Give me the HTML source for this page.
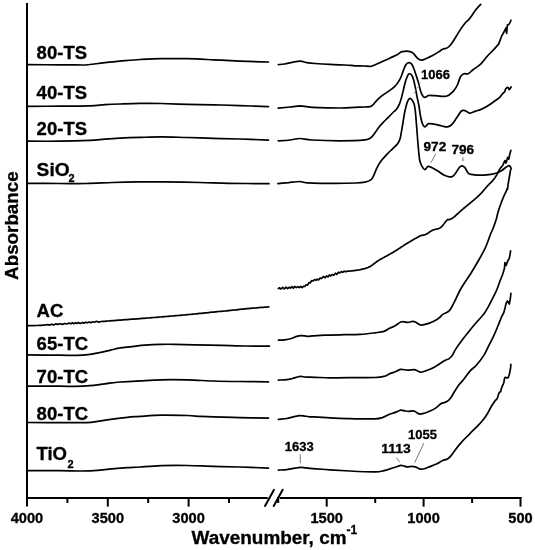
<!DOCTYPE html>
<html><head><meta charset="utf-8"><style>
html,body{margin:0;padding:0;background:#fff;}
svg{display:block;will-change:transform;}
text{font-family:"Liberation Sans",sans-serif;font-weight:bold;fill:#000;stroke:#000;stroke-width:0.3px;}
</style></head><body>
<svg width="535" height="550" viewBox="0 0 535 550">
<g fill="none" stroke="#000" stroke-width="1.7" stroke-linejoin="round" stroke-linecap="round">
<path d="M27.0 64.7 C32.5 64.7 50.8 64.8 60.0 64.8 C69.2 64.8 77.4 65.0 82.4 65.0 C87.4 65.0 86.2 64.9 89.9 64.5 C93.7 64.1 99.9 63.2 104.9 62.7 C109.9 62.2 114.0 61.7 119.8 61.2 C125.6 60.7 133.1 59.9 140.0 59.5 C146.9 59.1 153.3 58.7 161.2 58.6 C169.1 58.5 178.7 58.5 187.4 58.7 C196.1 58.9 204.8 59.4 213.5 59.8 C222.2 60.2 230.5 60.7 239.7 61.1 C248.9 61.5 263.7 61.9 268.5 62.0"/>
<path d="M27.0 106.3 C32.5 106.3 49.5 106.3 60.0 106.2 C70.5 106.1 82.4 106.0 89.9 105.8 C97.4 105.5 99.9 105.0 104.9 104.7 C109.9 104.4 114.0 104.2 119.8 104.0 C125.6 103.8 133.1 103.5 140.0 103.4 C146.9 103.3 153.3 103.3 161.2 103.5 C169.1 103.7 178.7 104.1 187.4 104.3 C196.1 104.5 204.8 104.6 213.5 104.8 C222.2 105.0 230.5 105.3 239.7 105.6 C248.9 105.9 263.7 106.4 268.5 106.6"/>
<path d="M27.0 141.2 C32.5 141.2 49.5 141.3 60.0 141.2 C70.5 141.0 82.4 140.6 89.9 140.3 C97.4 140.0 99.9 139.5 104.9 139.2 C109.9 138.8 114.0 138.5 119.8 138.2 C125.6 137.9 133.1 137.6 140.0 137.4 C146.9 137.2 153.3 136.9 161.2 136.9 C169.1 136.9 178.7 137.3 187.4 137.5 C196.1 137.7 204.8 138.1 213.5 138.3 C222.2 138.6 230.5 138.7 239.7 139.0 C248.9 139.3 263.7 139.9 268.5 140.1"/>
<path d="M27.0 183.4 C32.5 183.4 50.1 183.5 60.0 183.5 C69.9 183.5 77.5 183.7 86.2 183.5 C94.9 183.3 103.7 182.8 112.4 182.5 C121.1 182.2 129.8 182.0 138.5 181.9 C147.2 181.8 154.4 181.8 164.7 181.9 C174.9 182.0 189.3 182.3 200.0 182.5 C210.7 182.7 217.1 183.1 228.6 183.3 C240.1 183.5 262.3 183.6 269.0 183.7"/>
<path d="M27.0 325.7 L27.4 325.7 L27.8 325.7 L28.3 325.7 L28.8 325.7 L29.4 325.7 L30.1 325.6 L30.8 325.6 L31.5 325.6 L32.2 325.6 L32.9 325.6 L33.7 325.6 L34.5 325.6 L35.2 325.5 L36.0 325.5 L36.7 325.5 L37.5 325.5 L38.1 325.5 L38.8 325.4 L39.4 325.4 L40.0 325.4 L40.5 325.4 L41.0 325.3 L41.4 325.3 L41.8 325.3 L42.2 325.3 L42.6 325.2 L42.9 325.2 L43.3 325.2 L43.6 325.1 L43.9 325.1 L44.3 325.1 L44.7 325.0 L45.1 325.0 L45.5 325.0 L45.9 324.9 L46.4 324.9 L46.9 324.8 L47.5 324.5 L49.7 325.1 L51.5 324.2 L53.4 324.9 L55.6 323.9 L57.9 324.4 L60.2 323.8 L62.5 324.4 L64.8 323.5 L67.0 324.0 L69.0 323.0 L70.8 323.8 L72.5 322.8 L74.0 323.7 L75.6 322.7 L77.0 323.4 L78.4 322.6 L80.5 323.5 L82.6 322.4 L84.1 323.2 L85.5 322.2 L87.4 322.8 L89.1 321.9 L90.8 322.7 L92.8 321.8 L94.4 322.2 L96.4 321.3 L98.7 322.1 L101.4 321.5 L103.0 321.4 L104.7 321.3 L106.4 321.1 L108.3 321.0 L110.2 320.8 L112.2 320.7 L114.2 320.6 L116.3 320.4 L118.5 320.2 L120.6 320.1 L122.8 319.9 L125.0 319.7 L127.2 319.6 L129.4 319.4 L131.6 319.2 L133.8 319.1 L135.9 318.9 L138.0 318.8 L140.0 318.6 L142.0 318.4 L144.0 318.3 L146.0 318.1 L148.1 318.0 L150.1 317.8 L152.1 317.6 L154.2 317.5 L156.2 317.3 L158.3 317.1 L160.3 317.0 L162.3 316.8 L164.3 316.6 L166.3 316.5 L168.3 316.3 L170.3 316.1 L172.3 316.0 L174.2 315.8 L176.2 315.6 L178.1 315.5 L180.0 315.3 L181.9 315.1 L183.7 315.0 L185.6 314.8 L187.4 314.6 L189.2 314.5 L191.0 314.3 L192.8 314.1 L194.5 314.0 L196.3 313.8 L198.0 313.6 L199.8 313.4 L201.5 313.3 L203.3 313.1 L205.0 312.9 L206.7 312.8 L208.5 312.6 L210.2 312.4 L212.0 312.2 L213.7 312.1 L215.5 311.9 L217.3 311.7 L219.1 311.5 L221.0 311.3 L222.9 311.2 L224.8 311.0 L226.7 310.8 L228.6 310.6 L230.5 310.4 L232.5 310.2 L234.4 310.0 L236.2 309.8 L238.1 309.6 L239.9 309.4 L241.7 309.2 L243.4 309.1 L245.0 308.9 L246.6 308.7 L248.2 308.6 L249.6 308.4 L251.0 308.3 L252.3 308.2 L253.6 308.1 L254.8 308.0 L256.0 307.9 L257.1 307.8 L258.2 307.7 L259.2 307.6 L260.2 307.5 L261.2 307.4 L262.1 307.4 L263.0 307.3 L263.8 307.3 L264.6 307.2 L265.3 307.1 L266.0 307.1 L266.7 307.1 L267.3 307.0 L267.8 307.0 L268.3 306.9 L268.8 306.9"/>
<path d="M27.0 354.8 C32.5 354.9 51.7 355.1 60.0 355.2 C68.3 355.3 72.1 355.5 76.8 355.4 C81.5 355.3 84.2 355.1 88.0 354.6 C91.8 354.2 95.5 353.4 99.3 352.7 C103.0 351.9 107.0 350.9 110.5 350.1 C114.0 349.3 116.8 348.4 120.0 347.9 C123.2 347.3 125.8 347.2 130.0 346.8 C134.2 346.4 139.9 345.6 144.9 345.2 C149.9 344.8 154.9 344.5 159.9 344.4 C164.9 344.2 169.0 344.2 174.8 344.3 C180.7 344.4 187.2 344.6 195.0 344.8 C202.8 345.0 213.4 345.2 221.8 345.4 C230.2 345.6 237.7 345.9 245.6 346.0 C253.5 346.1 265.4 346.1 269.4 346.1"/>
<path d="M27.0 386.1 C32.5 386.1 52.0 386.1 60.0 386.1 C68.0 386.2 70.0 386.5 75.0 386.4 C80.0 386.3 84.9 386.1 89.9 385.7 C94.9 385.3 99.9 384.4 104.9 383.8 C109.9 383.2 114.0 382.5 119.8 382.0 C125.6 381.5 133.1 381.3 140.0 380.9 C146.9 380.5 153.3 380.0 161.2 379.8 C169.1 379.6 178.7 379.7 187.4 379.9 C196.1 380.1 204.8 380.7 213.5 381.0 C222.2 381.3 230.5 381.4 239.7 381.5 C248.9 381.6 263.7 381.8 268.5 381.8"/>
<path d="M27.0 422.5 C32.5 422.5 50.0 422.6 60.0 422.6 C70.0 422.6 80.7 422.8 86.9 422.6 C93.1 422.4 93.2 422.0 97.4 421.4 C101.6 420.8 107.3 419.9 112.3 419.2 C117.3 418.5 122.7 417.8 127.3 417.3 C131.9 416.8 134.3 416.8 140.0 416.4 C145.7 416.0 153.3 415.2 161.2 415.1 C169.1 415.0 180.9 415.3 187.4 415.5 C193.9 415.7 196.1 416.2 200.4 416.4 C204.8 416.6 206.9 416.6 213.5 416.8 C220.1 417.0 230.5 417.4 239.7 417.6 C248.9 417.8 263.7 418.0 268.5 418.1"/>
<path d="M27.0 470.7 C32.5 470.7 50.8 470.6 60.0 470.7 C69.2 470.8 76.2 471.1 82.4 471.0 C88.6 470.9 92.4 470.7 97.4 470.3 C102.4 469.9 107.3 469.2 112.3 468.8 C117.3 468.4 122.7 468.0 127.3 467.7 C131.9 467.4 134.3 467.4 140.0 467.0 C145.7 466.6 153.3 465.9 161.2 465.6 C169.1 465.4 178.7 465.4 187.4 465.5 C196.1 465.6 204.8 466.1 213.5 466.3 C222.2 466.6 230.5 466.7 239.7 467.0 C248.9 467.3 263.7 467.9 268.5 468.1"/>
<path d="M278.4 64.6 C279.4 64.5 282.3 64.4 284.6 64.0 C286.9 63.6 289.8 62.8 292.4 62.3 C295.0 61.8 297.9 61.2 300.3 61.2 C302.7 61.2 304.6 62.2 307.0 62.6 C309.4 63.0 311.1 63.2 314.9 63.5 C318.7 63.8 325.0 64.2 330.0 64.4 C335.0 64.7 340.8 64.8 345.0 65.0 C349.2 65.2 351.8 65.6 355.0 65.8 C358.2 66.0 361.4 65.9 364.0 66.0 C366.6 66.1 368.4 66.6 370.5 66.3 C372.6 66.0 374.2 65.0 376.8 64.0 C379.4 63.0 383.1 61.2 385.8 60.0 C388.5 58.8 391.1 57.5 393.1 56.6 C395.1 55.7 396.3 55.1 397.6 54.4 C398.9 53.6 399.9 52.6 401.0 52.1 C402.1 51.6 403.0 51.4 404.3 51.3 C405.6 51.2 407.5 51.1 408.8 51.3 C410.1 51.5 411.3 51.9 412.2 52.4 C413.1 52.9 413.1 53.2 414.0 54.1 C414.9 55.0 416.1 57.0 417.3 58.0 C418.5 59.0 419.6 60.1 421.3 60.1 C423.0 60.1 425.4 58.8 427.4 58.0 C429.3 57.2 431.1 56.2 433.0 55.2 C434.9 54.2 437.0 52.9 438.6 51.9 C440.2 50.9 441.3 49.9 442.6 49.3 C443.9 48.7 445.4 48.7 446.5 48.2 C447.6 47.7 448.2 47.5 449.3 46.3 C450.4 45.1 451.8 43.3 453.2 41.2 C454.6 39.1 456.4 36.0 457.7 33.9 C459.0 31.8 460.0 30.2 461.2 28.4 C462.4 26.6 463.8 24.7 465.0 23.2 C466.2 21.7 467.6 20.9 468.7 19.6 C469.8 18.4 470.4 17.4 471.7 15.7 C472.9 14.0 474.7 11.2 476.2 9.3 C477.7 7.4 479.9 5.1 480.7 4.3"/>
<path d="M278.2 108.2 C280.2 108.0 286.3 107.4 290.0 107.0 C293.7 106.6 296.7 105.9 300.4 105.9 C304.1 106.0 305.4 107.0 312.0 107.3 C318.6 107.6 332.0 108.0 340.0 108.0 C348.0 108.0 355.0 107.3 360.0 107.1 C365.0 106.9 367.9 107.1 370.1 106.6 C372.4 106.1 372.4 105.3 373.5 104.3 C374.6 103.3 375.3 101.9 376.8 100.4 C378.3 98.9 380.3 97.0 382.4 95.4 C384.5 93.8 387.1 92.4 389.2 90.9 C391.3 89.4 393.2 88.0 394.8 86.4 C396.4 84.8 397.6 83.2 398.7 81.4 C399.8 79.6 400.7 77.7 401.5 75.7 C402.3 73.7 402.9 71.5 403.7 69.6 C404.4 67.7 405.1 65.7 406.0 64.5 C406.9 63.3 407.9 62.7 408.8 62.6 C409.7 62.5 410.8 63.0 411.6 64.0 C412.4 65.0 413.1 66.6 413.8 68.5 C414.6 70.4 415.3 72.9 416.1 75.2 C416.9 77.5 417.6 79.9 418.4 82.5 C419.1 85.1 419.9 88.8 420.6 91.0 C421.3 93.2 421.9 94.4 422.5 95.5 C423.1 96.6 423.8 97.2 424.5 97.4 C425.2 97.6 425.8 97.1 426.5 96.8 C427.2 96.5 427.1 95.7 428.5 95.5 C429.9 95.3 432.8 95.6 435.2 95.7 C437.6 95.8 441.0 96.2 443.0 96.3 C445.0 96.3 445.7 96.5 447.0 96.0 C448.3 95.5 449.7 94.5 450.9 93.5 C452.1 92.5 453.2 91.6 454.3 90.1 C455.4 88.6 456.6 86.7 457.6 84.5 C458.6 82.3 459.4 78.6 460.5 76.8 C461.6 75.0 462.6 74.3 463.9 73.8 C465.1 73.3 466.5 74.4 468.0 73.8 C469.5 73.2 470.6 71.7 472.7 70.0 C474.8 68.3 478.4 66.3 480.9 63.9 C483.4 61.5 485.6 58.0 487.7 55.7 C489.8 53.4 491.4 52.1 493.2 50.2 C495.0 48.3 497.7 45.1 498.6 44.1 L501.4 36.7 L504.5 31.0 L506.1 27.8 L506.6 33.5 L507.4 25.0 L508.7 24.6 L510.3 22.1 L510.9 20.2"/>
<path d="M278.2 140.8 C280.2 140.7 286.4 140.4 290.0 140.0 C293.6 139.6 296.3 138.5 300.0 138.5 C303.7 138.5 305.3 139.6 312.0 140.0 C318.7 140.4 331.2 140.8 340.0 140.8 C348.8 140.8 359.9 140.4 365.0 139.9 C370.1 139.4 369.1 138.9 370.8 137.7 C372.5 136.5 374.0 134.2 375.2 132.6 C376.4 131.0 376.9 129.8 378.1 128.2 C379.3 126.6 380.8 124.9 382.5 123.1 C384.2 121.3 386.4 119.2 388.3 117.3 C390.2 115.4 392.8 112.7 394.1 111.5 C395.4 110.3 395.0 111.2 395.9 110.0 C396.8 108.8 398.4 106.4 399.3 104.3 C400.2 102.2 400.8 100.2 401.5 97.6 C402.2 95.0 402.9 91.6 403.7 88.6 C404.4 85.6 405.2 82.0 406.0 79.7 C406.8 77.4 407.6 75.6 408.2 74.6 C408.8 73.6 409.2 73.6 409.9 73.8 C410.5 74.0 411.5 74.5 412.1 75.7 C412.8 76.9 413.2 78.7 413.8 80.8 C414.4 82.9 414.9 85.8 415.5 88.6 C416.1 91.4 416.6 94.8 417.2 97.6 C417.8 100.4 418.4 102.6 418.9 105.5 C419.4 108.4 419.8 112.3 420.3 115.0 C420.8 117.7 421.2 119.8 421.7 121.5 C422.2 123.2 422.7 124.6 423.3 125.5 C423.9 126.4 424.5 127.0 425.1 126.9 C425.7 126.8 426.4 125.5 427.0 125.0 C427.6 124.5 427.6 123.8 429.0 123.7 C430.4 123.6 433.1 123.9 435.2 124.3 C437.3 124.7 439.8 125.6 441.9 126.0 C443.9 126.4 445.8 127.2 447.5 126.9 C449.2 126.6 450.5 125.8 452.0 124.3 C453.5 122.8 455.0 120.2 456.5 118.1 C458.0 115.9 459.8 112.7 461.0 111.4 C462.2 110.1 462.9 110.3 463.8 110.3 C464.7 110.3 465.7 110.9 466.6 111.4 C467.5 111.9 468.5 112.9 469.4 113.1 C470.3 113.3 471.3 112.8 472.2 112.5 C473.1 112.2 473.4 112.0 475.0 111.4 C476.6 110.8 479.2 110.4 481.9 109.1 C484.6 107.8 488.0 105.7 491.0 103.7 C494.0 101.7 498.5 98.4 500.0 97.3 L502.1 94.1 L504.8 91.6 L505.6 88.9 L507.3 87.3 L508.4 87.8 L509.2 89.7 L510.3 88.4 L511.1 87.0"/>
<path d="M277.9 183.6 C279.7 183.4 285.0 182.9 288.7 182.6 C292.4 182.2 296.8 181.5 299.9 181.5 C303.0 181.5 301.5 182.5 307.4 182.8 C313.3 183.1 327.3 183.4 335.4 183.4 C343.5 183.4 351.1 183.2 356.0 183.0 C360.9 182.8 362.5 182.6 365.0 182.1 C367.5 181.6 369.4 181.0 370.8 179.9 C372.2 178.8 372.7 177.4 373.7 175.5 C374.7 173.6 375.5 170.7 376.7 168.3 C377.9 165.9 379.3 163.3 381.0 161.0 C382.7 158.7 384.9 156.5 386.8 154.4 C388.8 152.3 390.9 150.4 392.7 148.6 C394.5 146.8 396.6 145.1 397.8 143.5 C399.0 141.9 399.4 141.0 400.0 139.1 C400.6 137.2 400.9 134.5 401.4 131.8 C401.9 129.1 402.4 126.0 402.9 123.1 C403.4 120.2 403.8 117.2 404.3 114.4 C404.8 111.7 405.4 108.9 406.0 106.6 C406.6 104.3 407.2 101.8 408.0 100.5 C408.8 99.2 409.5 98.0 410.5 98.5 C411.5 99.0 413.0 101.3 413.8 103.2 C414.6 105.1 414.7 106.0 415.2 110.0 C415.7 114.0 416.2 121.4 416.7 127.5 C417.2 133.6 417.7 141.1 418.2 146.4 C418.7 151.7 419.1 156.5 419.6 159.5 C420.1 162.5 420.5 163.1 421.1 164.5 C421.7 165.9 422.4 167.1 423.0 167.9 C423.6 168.8 424.3 169.7 425.0 169.6 C425.7 169.5 426.4 167.8 427.0 167.3 C427.6 166.8 427.8 166.3 428.7 166.4 C429.6 166.5 431.0 167.1 432.6 167.9 C434.2 168.7 436.3 170.1 438.2 171.3 C440.1 172.5 441.9 174.1 443.8 175.0 C445.7 175.9 447.9 176.7 449.4 176.9 C450.9 177.1 451.7 177.1 452.8 176.3 C453.9 175.6 455.0 173.9 456.1 172.4 C457.2 170.9 458.5 168.4 459.5 167.3 C460.5 166.2 461.4 165.8 462.3 165.9 C463.2 166.0 464.3 166.9 465.1 167.9 C465.9 168.9 466.6 170.8 467.3 171.8 C468.1 172.8 468.5 173.6 469.6 174.1 C470.7 174.6 471.9 174.6 474.1 174.8 C476.4 175.0 480.3 175.3 483.1 175.2 C485.9 175.1 488.3 174.8 490.7 174.4 C493.1 174.0 495.5 173.4 497.3 172.8 C499.1 172.2 500.2 171.5 501.7 170.6 C503.1 169.7 504.8 168.1 506.0 167.3 C507.2 166.5 508.1 165.8 508.8 165.7 C509.5 165.6 510.0 166.2 510.4 166.7 C510.8 167.2 511.1 168.5 511.3 168.9"/>
<path d="M278.3 288.5 L278.6 288.5 L278.9 288.5 L279.2 287.7 L281.0 289.0 L282.6 287.4 L284.3 288.9 L286.0 287.1 L287.6 288.6 L289.1 287.3 L290.5 288.1 L291.9 286.6 L293.4 288.1 L294.7 286.5 L296.4 287.6 L297.9 286.6 L299.2 287.6 L300.7 286.5 L302.1 287.7 L303.4 286.4 L304.8 286.5 L306.1 284.8 L307.5 285.2 L309.0 282.6 L310.3 282.8 L311.7 280.6 L313.1 281.0 L314.6 279.5 L315.9 280.3 L317.2 279.2 L318.5 279.9 L320.1 278.1 L321.7 278.4 L323.4 276.5 L325.1 277.7 L326.5 276.0 L327.9 276.9 L329.4 275.0 L330.8 276.0 L332.2 274.5 L333.9 275.3 L335.4 273.2 L336.8 274.4 L338.4 272.2 L339.8 273.0 L341.2 271.7 L342.7 272.3 L344.2 271.2 L345.6 271.8 L346.3 271.4 L346.6 271.3 L346.9 271.3 L347.3 271.3 L347.7 271.2 L348.0 271.2 L348.4 271.2 L348.8 271.1 L349.2 271.1 L349.5 271.1 L349.9 271.0 L350.3 271.0 L350.7 271.0 L351.1 270.9 L351.4 270.9 L351.8 270.8 L352.2 270.8 L352.6 270.8 L352.9 270.7 L353.3 270.7 L353.7 270.6 L354.1 270.6 L354.4 270.6 L354.8 270.5 L355.2 270.5 L355.6 270.4 L356.0 270.4 L356.4 270.3 L356.7 270.3 L357.1 270.2 L357.5 270.2 L357.9 270.1 L358.3 270.0 L358.7 270.0 L359.2 269.9 L359.6 269.8 L360.0 269.7 L360.4 269.6 L360.9 269.5 L361.3 269.4 L361.8 269.3 L362.2 269.2 L362.7 269.1 L363.1 269.0 L363.6 268.9 L364.1 268.8 L364.6 268.6 L365.0 268.5 L365.5 268.4 L366.0 268.2 L366.5 268.1 L366.9 267.9 L367.4 267.7 L367.9 267.5 L368.4 267.3 L368.8 267.1 L369.3 266.9 L369.8 266.7 L370.2 266.4 L370.7 266.1 L371.1 265.9 L371.5 265.6 L371.9 265.3 L372.4 265.0 L372.8 264.7 L373.2 264.3 L373.6 264.0 L374.1 263.7 L374.5 263.3 L375.0 263.0 L375.5 262.6 L376.0 262.2 L376.5 261.9 L377.0 261.5 L377.5 261.1 L378.1 260.8 L378.7 260.4 L379.3 260.0 L380.0 259.6 L380.7 259.2 L381.4 258.8 L382.1 258.4 L382.8 258.0 L383.6 257.6 L384.4 257.2 L385.1 256.7 L385.9 256.3 L386.7 255.9 L387.5 255.5 L388.3 255.0 L389.1 254.6 L389.9 254.1 L390.6 253.7 L391.4 253.3 L392.2 252.8 L392.9 252.4 L393.6 252.0 L394.3 251.6 L395.0 251.2 L395.7 250.7 L396.3 250.3 L397.0 249.9 L397.7 249.5 L398.3 249.0 L399.0 248.6 L399.6 248.2 L400.3 247.7 L400.9 247.3 L401.5 246.9 L402.2 246.5 L402.8 246.1 L403.5 245.6 L404.1 245.2 L404.8 244.8 L405.4 244.4 L406.0 244.0 L406.7 243.6 L407.4 243.2 L408.0 242.8 L408.7 242.4 L409.4 241.9 L410.2 241.5 L410.9 241.1 L411.6 240.7 L412.3 240.2 L413.0 239.8 L413.7 239.4 L414.4 239.0 L415.1 238.6 L415.8 238.2 L416.4 237.9 L417.1 237.5 L417.7 237.2 L418.2 236.9 L418.8 236.6 L419.3 236.3 L419.8 236.1 L420.2 235.9 L420.7 235.7 L421.0 235.6 L421.4 235.5 L421.7 235.4 L422.0 235.3 L422.2 235.3 L422.5 235.2 L422.7 235.2 L422.9 235.2 L423.2 235.1 L423.4 235.1 L423.6 235.1 L423.8 235.1 L424.0 235.0 L424.3 235.0 L424.5 234.9 L424.8 234.8 L425.1 234.7 L425.4 234.6 L425.7 234.4 L426.1 234.3 L426.4 234.1 L426.8 233.9 L427.1 233.6 L427.5 233.4 L427.9 233.2 L428.3 232.9 L428.6 232.7 L429.0 232.4 L429.4 232.1 L429.8 231.9 L430.2 231.6 L430.6 231.4 L431.0 231.1 L431.4 230.9 L431.8 230.7 L432.1 230.5 L432.5 230.3 L432.9 230.1 L433.3 229.9 L433.7 229.8 L434.0 229.7 L434.4 229.6 L434.8 229.5 L435.2 229.4 L435.6 229.3 L435.9 229.2 L436.3 229.2 L436.7 229.1 L437.1 229.0 L437.5 228.9 L437.8 228.8 L438.2 228.7 L438.6 228.6 L439.0 228.5 L439.3 228.3 L439.7 228.1 L440.0 227.9 L440.4 227.7 L440.8 227.4 L441.1 227.1 L441.5 226.8 L441.8 226.4 L442.2 226.0 L442.6 225.6 L442.9 225.2 L443.3 224.7 L443.6 224.3 L444.0 223.8 L444.3 223.4 L444.6 222.9 L445.0 222.5 L445.3 222.1 L445.6 221.7 L445.9 221.3 L446.2 221.0 L446.4 220.7 L446.7 220.4 L446.9 220.2 L447.1 220.0 L447.3 219.9 L447.5 219.8 L447.6 219.7 L447.7 219.6 L447.9 219.6 L448.0 219.5 L448.1 219.5 L448.2 219.5 L448.2 219.6 L448.3 219.6 L448.4 219.6 L448.5 219.7 L448.6 219.7 L448.7 219.7 L448.8 219.7 L448.9 219.7 L449.0 219.7 L449.1 219.7 L449.3 219.6 L449.5 219.5 L449.6 219.5 L449.8 219.4 L450.0 219.3 L450.1 219.3 L450.3 219.2 L450.5 219.2 L450.7 219.1 L450.8 219.0 L451.0 218.9 L451.2 218.8 L451.4 218.7 L451.7 218.6 L451.9 218.5 L452.1 218.4 L452.4 218.2 L452.6 218.0 L452.9 217.8 L453.2 217.6 L453.5 217.4 L453.8 217.2 L454.1 216.9 L454.5 216.6 L454.8 216.3 L455.2 216.0 L455.6 215.7 L455.9 215.3 L456.3 215.0 L456.7 214.6 L457.1 214.2 L457.5 213.8 L458.0 213.4 L458.4 213.0 L458.9 212.6 L459.3 212.2 L459.8 211.8 L460.3 211.3 L460.8 210.9 L461.3 210.4 L461.8 210.0 L462.3 209.5 L462.9 209.1 L463.5 208.5 L464.1 208.0 L464.8 207.5 L465.5 206.9 L466.1 206.4 L466.8 205.8 L467.5 205.2 L468.2 204.7 L468.9 204.1 L469.6 203.5 L470.3 203.0 L470.9 202.4 L471.6 201.9 L472.2 201.4 L472.8 200.9 L473.4 200.4 L473.9 199.9 L474.4 199.5 L474.9 199.1 L475.3 198.7 L475.7 198.4 L476.1 198.0 L476.5 197.7 L476.8 197.4 L477.1 197.1 L477.4 196.9 L477.7 196.6 L478.0 196.3 L478.3 196.1 L478.6 195.8 L478.9 195.5 L479.1 195.3 L479.4 195.0 L479.7 194.7 L480.0 194.4 L480.3 194.1 L480.6 193.8 L480.9 193.5 L481.2 193.2 L481.6 192.8 L481.9 192.4 L482.2 192.0 L482.6 191.7 L482.9 191.3 L483.3 190.9 L483.6 190.5 L483.9 190.1 L484.3 189.7 L484.6 189.3 L484.9 188.9 L485.3 188.5 L485.6 188.1 L485.9 187.7 L486.3 187.3 L486.6 186.9 L486.9 186.6 L487.2 186.2 L487.5 185.9 L487.8 185.6 L488.1 185.3 L488.4 185.0 L488.7 184.7 L489.0 184.4 L489.3 184.1 L489.5 183.8 L489.8 183.5 L490.1 183.3 L490.4 183.0 L490.6 182.8 L490.9 182.5 L491.2 182.2 L491.4 182.0 L491.7 181.7 L491.9 181.5 L492.2 181.2 L492.4 180.9 L492.7 180.7 L492.9 180.4 L493.1 180.1 L493.3 179.8 L493.6 179.6 L493.8 179.3 L494.0 179.0 L494.2 178.7 L494.4 178.5 L494.6 178.2 L494.8 177.9 L495.0 177.6 L495.1 177.4 L495.3 177.1 L495.5 176.8 L495.7 176.5 L495.9 176.3 L496.0 176.0 L496.2 175.7 L496.4 175.4 L496.5 175.2 L496.7 174.9 L496.9 174.6 L497.0 174.4 L497.2 174.1 L497.3 173.8 L497.5 173.5 L497.6 173.2 L497.7 173.0 L497.9 172.7 L498.0 172.4 L498.1 172.1 L498.3 171.9 L498.4 171.6 L498.5 171.3 L498.7 171.0 L498.8 170.8 L498.9 170.5 L499.1 170.3 L499.2 170.0 L499.3 169.7 L499.5 169.5 L499.7 169.3 L499.8 169.0 L500.0 168.8 L500.1 168.6 L500.3 168.3 L500.5 168.1 L500.7 167.9 L500.8 167.7 L501.0 167.5 L501.2 167.2 L501.4 167.0 L501.5 166.8 L501.7 166.6 L501.9 166.4 L502.0 166.2 L502.2 166.0 L502.4 165.8 L502.5 165.5 L502.7 165.3 L502.8 165.1 L502.9 164.9 L503.1 164.6 L503.2 164.4 L503.3 164.1 L503.4 163.8 L503.5 163.6 L503.7 163.3 L503.8 163.0 L503.9 162.8 L504.0 162.5 L504.1 162.2 L504.2 162.0 L504.3 161.8 L504.4 161.5 L504.5 161.3 L504.6 161.2 L504.7 161.0 L504.7 160.9 L504.8 160.8 L504.9 160.7 L505.0 160.7 L505.0 160.7 L505.1 160.7 L505.2 160.8 L505.2 161.0 L505.3 161.1 L505.3 161.3 L505.4 161.5 L505.4 161.7 L505.5 161.9 L505.5 162.1 L505.6 162.3 L505.6 162.4 L505.7 162.6 L505.7 162.7 L505.8 162.8 L505.8 162.9 L505.9 163.0 L505.9 163.0 L506.0 162.9 L506.1 162.8 L506.1 162.6 L506.2 162.4 L506.3 162.2 L506.4 161.9 L506.5 161.6 L506.6 161.3 L506.7 161.0 L506.8 160.6 L506.9 160.2 L506.9 159.9 L507.0 159.5 L507.1 159.2 L507.2 158.8 L507.3 158.5 L507.4 158.3 L507.5 158.0 L507.6 157.8 L507.6 157.6 L507.7 157.5 L507.8 157.4 L507.8 157.4 L507.9 157.4 L508.0 157.5 L508.0 157.6 L508.1 157.7 L508.1 157.8 L508.2 157.9 L508.2 158.1 L508.3 158.3 L508.3 158.4 L508.4 158.6 L508.4 158.7 L508.5 158.9 L508.5 159.0 L508.6 159.1 L508.6 159.1 L508.7 159.2 L508.7 159.2 L508.8 159.1 L508.9 159.0 L508.9 158.9 L509.0 158.7 L509.0 158.5 L509.1 158.3 L509.1 158.1 L509.2 157.8 L509.2 157.6 L509.3 157.3 L509.3 157.0 L509.3 156.7 L509.4 156.4 L509.4 156.1 L509.5 155.8 L509.5 155.5 L509.6 155.2 L509.6 154.9 L509.7 154.7 L509.7 154.4 L509.8 154.2 L509.9 154.0 L509.9 153.8 L510.0 153.5 L510.0 153.3 L510.1 153.1 L510.2 152.9 L510.2 152.6 L510.3 152.4 L510.3 152.2 L510.4 152.0 L510.5 151.8 L510.5 151.6 L510.6 151.4 L510.6 151.2 L510.7 151.1 L510.7 150.9 L510.8 150.8 L510.8 150.6 L510.9 150.5 L510.9 150.4"/>
<path d="M278.4 340.1 C279.4 340.1 282.5 340.1 284.6 339.8 C286.8 339.5 289.2 339.1 291.3 338.5 C293.4 337.9 295.2 336.9 296.9 336.4 C298.6 335.9 300.1 335.8 301.4 335.7 C302.7 335.6 303.7 335.8 304.8 335.9 C305.9 336.0 306.8 336.4 308.1 336.4 C309.4 336.4 310.5 336.1 312.6 335.9 C314.7 335.7 317.6 335.4 320.5 335.3 C323.4 335.2 325.9 335.2 330.0 335.1 C334.1 335.0 340.0 334.8 345.0 334.7 C350.0 334.6 355.0 334.7 360.0 334.4 C365.0 334.1 371.0 333.3 375.0 332.8 C379.0 332.3 381.6 332.1 384.0 331.4 C386.4 330.6 387.7 329.2 389.6 328.3 C391.5 327.4 393.3 326.8 395.2 325.7 C397.1 324.6 399.3 322.6 400.8 322.0 C402.3 321.4 403.0 321.7 404.2 321.8 C405.4 321.9 406.7 322.5 408.1 322.4 C409.5 322.3 411.4 321.4 412.6 321.3 C413.8 321.2 414.4 321.5 415.4 322.0 C416.4 322.5 417.8 323.6 418.7 324.1 C419.6 324.6 420.1 324.9 421.0 325.0 C421.9 325.1 422.8 325.0 424.3 324.6 C425.8 324.2 428.2 323.6 430.0 322.9 C431.8 322.2 433.6 321.4 435.1 320.6 C436.6 319.8 437.6 319.1 438.9 318.1 C440.2 317.1 441.4 315.3 442.7 314.4 C444.0 313.5 445.5 313.2 446.6 312.6 C447.7 312.0 448.2 311.7 449.1 310.8 C450.0 309.9 450.6 309.1 451.7 307.2 C452.8 305.3 454.1 302.4 455.5 299.6 C456.9 296.8 458.4 293.3 459.9 290.5 C461.4 287.7 462.6 285.8 464.4 283.0 C466.2 280.2 468.5 277.2 470.8 273.5 C473.1 269.8 476.0 264.9 478.2 261.0 C480.4 257.1 482.6 253.3 484.2 250.2 C485.8 247.1 486.4 245.2 487.5 242.5 C488.6 239.8 489.7 236.3 490.7 233.8 C491.7 231.3 492.6 229.7 493.5 227.3 C494.4 224.9 495.5 222.0 496.2 219.6 C496.9 217.2 497.2 215.1 497.8 213.1 C498.4 211.1 498.9 209.4 499.5 207.6 C500.1 205.8 500.7 204.1 501.5 202.0 C502.3 199.9 503.4 197.0 504.3 195.1 C505.2 193.2 506.1 191.6 506.6 190.4 C507.1 189.2 507.1 188.3 507.3 188.1 C507.5 187.9 507.5 189.6 507.6 189.0 C507.7 188.4 507.8 186.1 508.1 184.3 C508.4 182.5 508.8 180.4 509.2 178.0 C509.6 175.6 510.3 171.3 510.5 170.0"/>
<path d="M278.4 380.1 C279.8 380.0 284.5 379.9 286.8 379.6 C289.1 379.3 290.1 379.0 292.4 378.5 C294.6 378.0 298.1 376.6 300.3 376.4 C302.6 376.2 303.5 377.0 305.9 377.1 C308.3 377.2 310.9 377.2 314.9 377.3 C318.9 377.4 323.3 377.8 330.0 377.9 C336.7 377.9 347.5 377.7 355.0 377.6 C362.5 377.5 370.2 377.7 375.0 377.5 C379.8 377.3 381.6 377.0 384.0 376.4 C386.4 375.8 387.6 374.6 389.6 373.8 C391.7 373.0 394.4 372.1 396.3 371.3 C398.2 370.6 398.9 369.5 400.8 369.3 C402.7 369.1 405.2 370.1 407.5 370.2 C409.8 370.2 412.7 369.5 414.3 369.6 C415.9 369.7 416.1 370.3 417.1 370.7 C418.1 371.1 419.2 372.0 420.4 372.1 C421.6 372.2 422.7 371.8 424.3 371.3 C425.9 370.8 428.0 370.2 430.0 369.3 C432.0 368.4 434.3 367.1 436.4 365.9 C438.5 364.6 441.1 362.8 442.7 361.8 C444.3 360.8 444.9 360.5 446.0 360.0 C447.1 359.5 448.1 359.3 449.1 358.6 C450.1 357.9 450.9 357.3 452.0 355.8 C453.1 354.3 453.8 352.2 455.4 349.6 C457.0 347.1 459.4 343.7 461.8 340.5 C464.2 337.3 467.1 333.8 469.7 330.5 C472.3 327.2 475.3 323.8 477.7 321.0 C480.1 318.2 482.1 316.3 484.0 313.8 C485.9 311.3 487.2 308.8 488.8 305.9 C490.4 303.0 492.3 299.0 493.6 296.4 C494.9 293.8 495.6 292.6 496.7 290.0 C497.8 287.4 499.4 282.5 500.0 281.0 L502.6 274.5 L503.6 271.2 L504.5 268.0 L504.9 262.6 L506.1 265.4 L507.7 261.0 L509.3 258.4 L510.0 254.6 L510.6 250.8"/>
<path d="M278.4 419.4 C279.8 419.2 284.5 418.9 286.8 418.5 C289.1 418.1 290.3 417.6 292.4 417.1 C294.5 416.6 297.3 415.9 299.2 415.7 C301.1 415.5 301.9 415.7 303.6 415.9 C305.3 416.1 306.9 416.6 309.3 416.8 C311.7 417.0 314.8 416.9 318.2 417.1 C321.6 417.3 324.7 417.6 330.0 417.9 C335.3 418.1 342.5 418.5 350.0 418.6 C357.5 418.8 369.5 419.0 375.0 418.8 C380.5 418.6 380.5 418.1 382.9 417.4 C385.3 416.6 387.6 415.1 389.6 414.3 C391.7 413.5 393.3 413.1 395.2 412.4 C397.1 411.7 399.1 410.3 400.8 410.1 C402.5 409.9 404.0 410.8 405.3 411.0 C406.6 411.2 407.2 411.3 408.6 411.3 C410.0 411.3 412.4 410.8 413.7 411.0 C415.0 411.2 415.5 411.9 416.5 412.4 C417.5 412.9 418.6 414.0 419.9 414.1 C421.2 414.2 422.6 413.7 424.3 413.2 C426.0 412.7 428.1 411.9 430.0 411.0 C431.9 410.1 433.7 409.3 435.6 408.1 C437.5 406.9 439.7 404.5 441.2 403.6 C442.7 402.7 443.5 403.0 444.6 402.5 C445.7 402.0 446.8 401.7 447.9 400.8 C449.0 399.9 450.2 398.5 451.3 396.9 C452.4 395.3 453.4 393.4 454.7 391.3 C456.0 389.2 457.7 386.6 459.2 384.6 C460.7 382.6 461.7 381.8 463.6 379.5 C465.5 377.2 468.3 372.9 470.4 370.6 C472.5 368.3 473.8 368.1 476.1 365.5 C478.4 362.9 481.9 358.4 484.0 355.1 C486.1 351.8 487.2 348.8 488.8 345.6 C490.4 342.4 492.0 339.5 493.6 336.1 C495.2 332.7 497.0 328.2 498.3 325.0 C499.6 321.8 501.0 318.3 501.5 317.0 L503.9 312.4 L505.2 307.3 L506.1 303.4 L507.4 300.9 L509.3 304.1 L510.3 299.0 L510.9 293.3"/>
<path d="M278.4 470.1 C279.8 470.0 284.1 469.9 286.8 469.6 C289.5 469.3 292.4 468.6 294.7 468.2 C297.0 467.8 298.9 467.4 300.8 467.3 C302.7 467.2 303.9 467.7 305.9 467.9 C307.9 468.1 308.6 468.4 312.6 468.7 C316.6 469.0 323.8 469.4 330.0 469.8 C336.2 470.2 342.5 470.6 350.0 471.0 C357.5 471.4 369.3 472.0 375.0 471.9 C380.7 471.8 381.4 471.2 384.0 470.6 C386.6 470.1 388.5 469.3 390.7 468.6 C392.9 467.9 395.7 467.0 397.4 466.5 C399.1 466.0 399.7 465.5 400.8 465.4 C401.9 465.3 403.1 465.9 404.2 466.1 C405.3 466.4 406.2 466.9 407.5 466.9 C408.8 466.9 410.7 466.3 412.0 466.3 C413.3 466.3 414.5 466.6 415.4 466.9 C416.3 467.2 416.8 467.6 417.6 468.0 C418.4 468.4 419.3 469.0 420.4 469.1 C421.5 469.2 422.7 469.2 424.3 468.8 C425.9 468.4 428.0 467.4 430.0 466.6 C432.0 465.8 434.3 465.0 436.4 464.0 C438.5 463.0 440.8 461.4 442.7 460.5 C444.6 459.6 446.2 459.6 447.5 458.9 C448.8 458.2 449.4 457.6 450.7 456.1 C452.0 454.6 453.5 452.1 455.4 449.7 C457.2 447.3 459.4 444.4 461.8 441.8 C464.2 439.2 467.1 436.5 469.7 433.8 C472.3 431.1 475.3 428.4 477.7 425.9 C480.1 423.4 482.4 420.7 484.0 418.7 C485.6 416.7 486.1 415.9 487.2 414.0 C488.3 412.1 489.7 409.3 490.9 407.3 C492.1 405.3 493.1 403.4 494.2 401.9 C495.3 400.4 496.7 399.4 497.4 398.1 C498.1 396.8 498.1 395.2 498.5 394.2 C498.9 393.2 499.2 392.6 499.6 392.1 C500.0 391.7 500.4 392.1 500.7 391.5 C501.0 390.9 501.0 389.7 501.3 388.8 C501.6 387.9 502.0 386.9 502.3 386.1 C502.6 385.3 503.1 384.6 503.4 383.9 C503.7 383.2 503.8 382.6 504.0 381.7 C504.2 380.8 504.3 379.1 504.5 378.4 C504.7 377.7 504.8 377.4 505.3 377.3 C505.9 377.2 507.2 378.2 507.8 377.9 C508.4 377.6 508.5 376.8 508.9 375.7 C509.3 374.6 509.7 372.8 510.0 371.3 C510.3 369.9 510.6 368.2 510.7 367.0 C510.8 365.8 510.8 364.8 510.8 364.3"/>
</g>
<g stroke="#000" stroke-width="2" fill="none">
<line x1="27" y1="3" x2="27" y2="498.8"/>
<line x1="26" y1="498" x2="267.7" y2="498"/>
<line x1="279.7" y1="498" x2="521.4" y2="498"/>
<line x1="27.0" y1="497" x2="27.0" y2="506.6"/>
<line x1="107.8" y1="497" x2="107.8" y2="506.6"/>
<line x1="188.6" y1="497" x2="188.6" y2="506.6"/>
<line x1="67.4" y1="497" x2="67.4" y2="503.0"/>
<line x1="148.2" y1="497" x2="148.2" y2="503.0"/>
<line x1="229.0" y1="497" x2="229.0" y2="503.0"/>
<line x1="326.7" y1="497" x2="326.7" y2="506.6"/>
<line x1="423.6" y1="497" x2="423.6" y2="506.6"/>
<line x1="520.5" y1="497" x2="520.5" y2="506.6"/>
<line x1="278.2" y1="497" x2="278.2" y2="503.0"/>
<line x1="375.2" y1="497" x2="375.2" y2="503.0"/>
<line x1="472.1" y1="497" x2="472.1" y2="503.0"/>
<line x1="265" y1="506" x2="274" y2="489.8" stroke-linecap="round"/>
<line x1="273.7" y1="506" x2="282.7" y2="489.8" stroke-linecap="round"/>
</g>
<g stroke="#666" stroke-width="0.9">
<line x1="420.5" y1="82.3" x2="413.5" y2="94" stroke="#888" stroke-dasharray="1.6 1.2"/>
<line x1="435.7" y1="153.9" x2="431" y2="162.7"/>
<line x1="462.9" y1="157.6" x2="462.9" y2="161.3" stroke-width="1.3" stroke="#888"/>
<line x1="300.3" y1="454.4" x2="300.3" y2="463.2"/>
<line x1="423.9" y1="443.1" x2="414.6" y2="462.7"/>
<line x1="396.4" y1="457.7" x2="399.6" y2="461.8"/>
</g>
<g font-size="14">
<text transform="translate(27.00,522.5) scale(1.045,1)" text-anchor="middle">4000</text>
<text transform="translate(107.80,522.5) scale(1.045,1)" text-anchor="middle">3500</text>
<text transform="translate(188.60,522.5) scale(1.045,1)" text-anchor="middle">3000</text>
<text transform="translate(326.70,522.5) scale(1.045,1)" text-anchor="middle">1500</text>
<text transform="translate(423.60,522.5) scale(1.045,1)" text-anchor="middle">1000</text>
<text transform="translate(520.50,522.5) scale(1.045,1)" text-anchor="middle">500</text>
</g>
<text transform="translate(36.60,58.50) scale(1.060,1)" font-size="17.5">80-TS</text>
<text transform="translate(36.60,99.20) scale(1.060,1)" font-size="17.5">40-TS</text>
<text transform="translate(36.60,134.80) scale(1.060,1)" font-size="17.5">20-TS</text>
<text transform="translate(36.60,317.20) scale(1.060,1)" font-size="17.5">AC</text>
<text transform="translate(36.60,349.50) scale(1.060,1)" font-size="17.5">65-TC</text>
<text transform="translate(36.60,383.20) scale(1.060,1)" font-size="17.5">70-TC</text>
<text transform="translate(36.60,419.70) scale(1.060,1)" font-size="17.5">80-TC</text>
<text transform="translate(36.60,175.60) scale(1.095,1)" font-size="17.5">SiO</text>
<text transform="translate(68.40,181.50) scale(1.000,1)" font-size="11">2</text>
<text transform="translate(36.40,460.00) scale(1.060,1)" font-size="17.5">TiO</text>
<text transform="translate(67.50,467.80) scale(1.000,1)" font-size="11">2</text>
<text transform="translate(421.10,79.00) scale(1.000,1)" font-size="13">1066</text>
<text transform="translate(423.50,150.80) scale(1.050,1)" font-size="13">972</text>
<text transform="translate(451.40,154.40) scale(1.050,1)" font-size="13">796</text>
<text transform="translate(284.70,450.80) scale(1.000,1)" font-size="13">1633</text>
<text transform="translate(408.00,439.20) scale(1.000,1)" font-size="13">1055</text>
<text transform="translate(381.30,453.20) scale(1.070,1)" font-size="13">1113</text>
<text transform="translate(191.50,543.80) scale(1.052,1)" font-size="18">Wavenumber, cm</text>
<text transform="translate(346.50,533.60) scale(1.000,1)" font-size="12">-1</text>
<text transform="translate(18.0,225.6) rotate(-90) scale(1.045,1)" text-anchor="middle" font-size="18">Absorbance</text>
</svg>
</body></html>
